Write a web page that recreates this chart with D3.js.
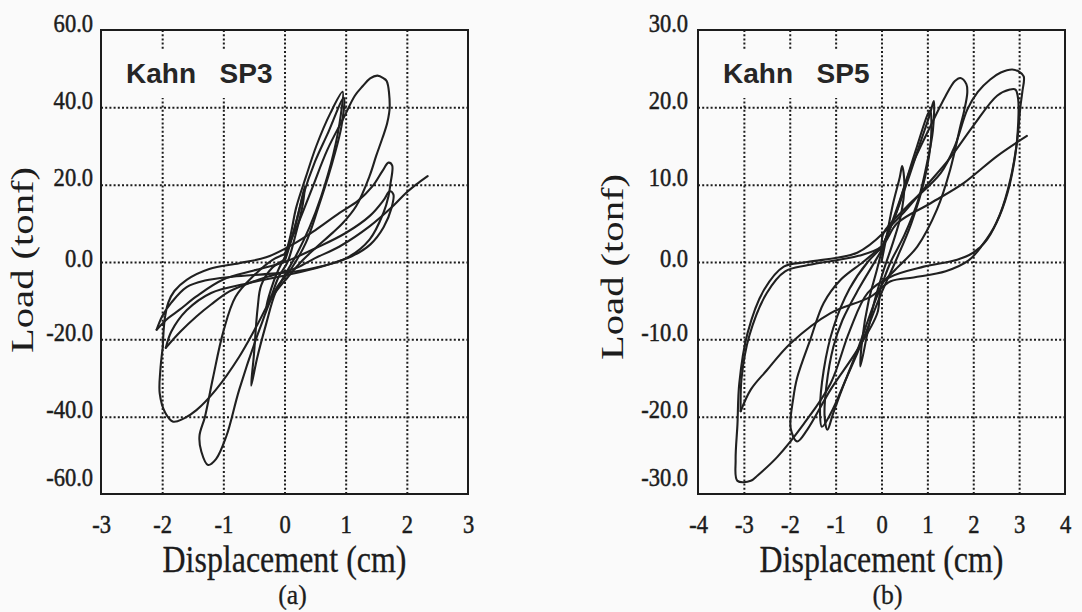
<!DOCTYPE html>
<html><head><meta charset="utf-8">
<script src="https://cdn.jsdelivr.net/npm/d3@7"></script>
<style>html,body{margin:0;padding:0;background:#fafafa;} svg{display:block;}</style>
</head><body>
<svg id="chart" width="1082" height="612"></svg>
<script>
// ---------------- DATA ----------------
const sp3XTicks = [-3, -2, -1, 0, 1, 2, 3];
const sp3YTicks = [-60, -40, -20, 0, 20, 40, 60];
const sp5XTicks = [-4, -3, -2, -1, 0, 1, 2, 3, 4];
const sp5YTicks = [-30, -20, -10, 0, 10, 20, 30];
const panelTitles = ["Kahn  SP3", "Kahn  SP5"];
const panelTags = ["(a)", "(b)"];
const xAxisTitle = "Displacement (cm)";
const yAxisTitle = "Load (tonf)";

// SP3 hysteresis cycles: [displacement (cm), load (tonf)]
const sp3Cycle1 = [[0,0],[0.1,5],[0.22,12],[0.33,19.5],[0.3,15],[0.18,7],[0.05,0],[-0.1,-4],[-0.22,-9],[-0.3,-12],[-0.22,-7],[-0.1,-2],[0,1]];
const sp3Cycle2 = [[0,1],[0.1,7],[0.19,14],[0.35,22],[0.52,30],[0.75,38.5],[0.95,44],[0.92,38],[0.8,28],[0.6,17],[0.41,9],[0.2,2],[0.02,-3],[-0.15,-8],[-0.3,-16],[-0.45,-25],[-0.545,-32],[-0.5,-24],[-0.44,-12],[-0.38,-6],[-0.2,-1.5],[0,0.5]];
const sp3Cycle3 = [[0,0.5],[0.15,8],[0.3,17],[0.5,26],[0.7,33],[0.97,42.5],[0.93,35],[0.75,24],[0.55,14],[0.35,5],[0.1,-2],[-0.14,-7],[-0.41,-17.5],[-0.74,-33],[-0.95,-45],[-1.12,-51],[-1.25,-52.5],[-1.36,-49],[-1.39,-45],[-1.3,-40],[-1.17,-30],[-1.0,-18],[-0.8,-9],[-0.5,-3.5],[-0.2,0.5],[0,2]];
const sp3Cycle4 = [[0,2],[0.2,9],[0.45,19],[0.7,29],[0.98,37.7],[1.15,43],[1.28,45.5],[1.4,47.5],[1.52,48.2],[1.62,47.5],[1.67,46.8],[1.72,40.3],[1.68,36],[1.6,32],[1.5,27.5],[1.39,22.2],[1.17,14.4],[0.95,10],[0.79,7.6],[0.5,3.5],[0.3,0.5],[0.05,-4],[-0.2,-9],[-0.46,-16.7],[-0.74,-24.5],[-1.12,-33],[-1.44,-38.3],[-1.65,-40.5],[-1.82,-41.3],[-1.95,-39],[-2.04,-34],[-2.03,-28],[-1.99,-22]];
const sp3Cycle5 = [[-1.99,-22],[-1.96,-15],[-1.9,-10.5],[-1.8,-7.5],[-1.6,-4.6],[-1.23,-1.8],[-0.74,-0.3],[-0.3,1.2],[0.13,4.5],[0.5,8.2],[0.9,12.7],[1.2,15.8],[1.44,19.6],[1.6,23.5],[1.7,25.7],[1.76,25],[1.73,20],[1.7,17],[1.62,12.8],[1.39,5.8],[1.01,1.0],[0.35,-2],[-0.2,-3],[-0.85,-3.8],[-1.3,-4.8],[-1.6,-6.5],[-1.85,-10.5],[-2.0,-14],[-2.09,-17.5]];
const sp3Cycle6 = [[-2.09,-17.5],[-1.9,-14.5],[-1.72,-12.4],[-1.44,-8.9],[-1.01,-4.6],[-0.5,-2.2],[0,0],[0.5,3.5],[1.0,7.5],[1.4,12],[1.62,16],[1.72,18.3],[1.78,17.5],[1.75,14],[1.62,9],[1.4,4.5],[1.1,1.5],[0.6,-1.2],[0,-3.5],[-0.6,-5.5],[-1.2,-8],[-1.6,-12.5],[-1.85,-18],[-1.94,-22.2]];
const sp3Cycle7 = [[-1.94,-22.2],[-1.7,-18],[-1.44,-14.1],[-1.2,-11],[-0.9,-7.6],[-0.5,-5],[-0.25,-3.7],[0.2,-1.5],[0.5,1],[0.9,4],[1.39,9.2],[1.77,14.4],[1.99,17.9],[2.15,20],[2.34,22.2]];

// SP5 hysteresis cycles: [displacement (cm), load (tonf)]
const sp5Cycle1 = [[0,0],[0.1,3],[0.25,7.5],[0.4,11],[0.45,12.4],[0.5,10],[0.42,6],[0.25,2.5],[0.05,-1],[-0.15,-5],[-0.3,-9],[-0.46,-13.5],[-0.42,-10],[-0.28,-5],[-0.1,-1],[0.05,2.5]];
const sp5Cycle2 = [[0.05,2.5],[0.3,6],[0.6,11],[0.85,15.5],[1.05,19],[1.14,20.8],[1.12,17],[1.0,13],[0.8,8],[0.5,3.5],[0.2,0],[0,-3],[-0.2,-6],[-0.5,-11],[-0.8,-15.5],[-1.05,-19.5],[-1.18,-21.7],[-1.24,-20],[-1.2,-16],[-1.05,-11],[-0.85,-7.5],[-0.5,-3.5],[-0.2,-0.5],[0,1.5]];
const sp5Cycle2b = [[0,1.5],[0.4,8],[0.75,14.5],[1.0,19],[1.06,19.6],[1.08,16],[0.95,11],[0.65,5],[0.3,0],[0,-4],[-0.4,-10],[-0.8,-15.5],[-1.1,-19.5],[-1.3,-21.3],[-1.34,-19.5],[-1.26,-14],[-1.05,-8.5],[-0.7,-3.5],[-0.3,0],[0,1.8]];
const sp5Cycle3 = [[0,1.8],[0.3,6],[0.63,12],[1.07,17.6],[1.4,21.5],[1.6,23.4],[1.72,23.8],[1.85,23],[1.87,21.9],[1.8,19.5],[1.72,17.6],[1.5,12],[1.21,6.8],[0.78,2.0],[0.3,-1],[0,-3],[-0.09,-6.6],[-0.53,-11.4],[-1.11,-16.5],[-1.62,-21.7],[-1.84,-23.2],[-1.98,-21.5],[-1.92,-17.5],[-1.84,-15],[-1.55,-10],[-1.26,-5.3],[-0.89,-2.3],[-0.4,0],[0,2]];
const sp5Cycle4 = [[0,2],[0.05,3.8],[0.56,7.2],[1.29,11.5],[1.6,15],[1.87,19.7],[2.1,22],[2.37,23.6],[2.6,24.5],[2.85,24.9],[3.0,24.6],[3.1,24],[3.07,22],[3.03,20.2],[2.96,15.8],[2.81,10.7],[2.59,6.3],[2.3,2.9],[2.0,1.2],[1.65,0.3],[0.92,-0.6],[0.2,-1.9],[-0.3,-4],[-0.7,-9],[-1.11,-15.7],[-1.69,-20.9],[-2.27,-25.2],[-2.7,-27.6],[-2.85,-28.3],[-3.14,-28.3],[-3.18,-25.6],[-3.14,-21],[-3.1,-15.7],[-2.92,-9.2],[-2.56,-3.6],[-2.13,-0.6],[-1.62,0],[-0.53,1.2],[0.05,3.8]];
const sp5Cycle5 = [[0.05,3.8],[0.5,6.5],[1.0,10],[1.5,13.5],[2.0,17.6],[2.52,21.5],[2.8,22.3],[2.92,22.3],[2.98,21],[2.98,18],[2.92,14],[2.75,9],[2.5,5],[2.2,2.2],[1.9,0.2],[1.4,-1.2],[0.7,-2],[0.2,-2.5],[-0.24,-4.5],[-1.11,-6.6],[-1.98,-10.5],[-2.5,-14],[-2.85,-16.5],[-3.07,-19.3]];
const sp5Cycle6 = [[-3.07,-19.3],[-3.05,-15],[-2.88,-9.5],[-2.5,-4],[-2.1,-1.2],[-1.6,-0.4],[-0.5,0.8],[0,2],[0.34,5],[1.07,7.6],[1.79,10.2],[2.52,13.7],[3.17,16.3]];

const sp3Cycles = [sp3Cycle1, sp3Cycle2, sp3Cycle3, sp3Cycle4, sp3Cycle5, sp3Cycle6, sp3Cycle7];
const sp5Cycles = [sp5Cycle1, sp5Cycle2, sp5Cycle2b, sp5Cycle3, sp5Cycle4, sp5Cycle5, sp5Cycle6];

// ---------------- DRAWING ----------------
const svg = d3.select("#chart");
svg.append("rect").attr("width", 1082).attr("height", 612).attr("fill", "#fafafa");

const INK = "#1c1c1c";
const SERIF = "'Liberation Serif','Times New Roman',serif";

function squeeze(sel, f, mode) {
  sel.each(function () {
    const L = this.getComputedTextLength();
    this.setAttribute("textLength", L * f);
    this.setAttribute("lengthAdjust", mode || "spacingAndGlyphs");
  });
}

function drawPanel(cfg) {
  const g = svg.append("g");
  const x = d3.scaleLinear().domain([cfg.xTicks[0], cfg.xTicks[cfg.xTicks.length - 1]]).range([cfg.left, cfg.right]);
  const y = d3.scaleLinear().domain([cfg.yTicks[0], cfg.yTicks[cfg.yTicks.length - 1]]).range([cfg.bottom, cfg.top]);
  const h = cfg.bottom - cfg.top, w = cfg.right - cfg.left;

  // dotted grid via axes
  const gx = g.append("g").attr("transform", `translate(0,${cfg.bottom})`)
    .call(d3.axisBottom(x).tickValues(cfg.xTicks.slice(1, -1)).tickSize(-h).tickFormat(""));
  const gy = g.append("g").attr("transform", `translate(${cfg.left},0)`)
    .call(d3.axisLeft(y).tickValues(cfg.yTicks.slice(1, -1)).tickSize(-w).tickFormat(""));
  [gx, gy].forEach(a => {
    a.select(".domain").remove();
    a.selectAll("line").attr("stroke", INK).attr("stroke-width", 2).attr("stroke-dasharray", "2,2.2");
  });

  // background box behind the title (hides grid), then title
  const box = g.append("rect").attr("x", cfg.left + 2).attr("y", 50).attr("height", 48).attr("fill", "#fafafa");
  const title = g.append("text")
    .attr("x", cfg.left + 25).attr("y", 83)
    .attr("font-family", "'Liberation Sans',Arial,sans-serif").attr("font-weight", "bold")
    .attr("font-size", 28).attr("fill", "#262626")
    .style("white-space", "pre").attr("word-spacing", 4)
    .text(cfg.title);
  const bb = title.node().getBBox();
  box.attr("width", bb.x + bb.width + 6 - cfg.left - 2);

  // curves
  const line = d3.line().x(d => x(d[0])).y(d => y(d[1])).curve(d3.curveCatmullRom.alpha(0.5));
  g.selectAll("path.cyc").data(cfg.cycles).join("path").attr("class", "cyc")
    .attr("d", line).attr("fill", "none").attr("stroke", "#202020")
    .attr("stroke-width", 2.1).attr("stroke-linejoin", "round").attr("stroke-linecap", "round");

  // frame
  g.append("rect").attr("x", cfg.left).attr("y", cfg.top).attr("width", w).attr("height", h)
    .attr("fill", "none").attr("stroke", INK).attr("stroke-width", 2);

  // tick labels via axes
  const ax = g.append("g").attr("transform", `translate(0,${cfg.bottom})`)
    .call(d3.axisBottom(x).tickValues(cfg.xTicks).tickSize(0).tickFormat(d => String(d)));
  ax.select(".domain").remove();
  ax.selectAll("text").attr("y", 39).attr("dy", null)
    .attr("font-family", SERIF).attr("font-size", 25).attr("fill", INK)
    .attr("stroke", INK).attr("stroke-width", 0.5);
  squeeze(ax.selectAll("text"), 0.9);

  const minY = cfg.yTicks[0];
  const ay = g.append("g").attr("transform", `translate(${cfg.left},0)`)
    .call(d3.axisLeft(y).tickValues(cfg.yTicks).tickSize(0).tickFormat(d => d.toFixed(1)));
  ay.select(".domain").remove();
  ay.selectAll("text").attr("x", -cfg.labelGap).attr("dy", null)
    .attr("y", d => d === minY ? -9 : d === 0 ? 4 : 1)
    .attr("font-family", SERIF).attr("font-size", 25).attr("fill", INK)
    .attr("stroke", INK).attr("stroke-width", 0.5);
  squeeze(ay.selectAll("text"), 0.9);

  // axis titles
  g.append("text").attr("x", (cfg.left + cfg.right) / 2).attr("y", 572)
    .attr("text-anchor", "middle").attr("font-family", SERIF).attr("font-size", 37).attr("fill", INK)
    .attr("stroke", INK).attr("stroke-width", 0.3)
    .attr("textLength", 244).attr("lengthAdjust", "spacingAndGlyphs")
    .text(xAxisTitle);

  const tag = g.append("text").attr("x", (cfg.left + cfg.right) / 2 + cfg.tagShift).attr("y", 604)
    .attr("text-anchor", "middle").attr("font-family", SERIF).attr("font-size", 27).attr("fill", INK)
    .attr("stroke", INK).attr("stroke-width", 0.3)
    .text(cfg.tag);
  squeeze(tag, 0.95);

  g.append("text").attr("transform", `translate(${cfg.yTitleX},${cfg.yTitleY}) scale(0.85,1) rotate(-90)`)
    .attr("text-anchor", "middle").attr("font-family", SERIF).attr("font-size", 36).attr("fill", INK)
    .attr("textLength", 186).attr("lengthAdjust", "spacingAndGlyphs")
    .text(yAxisTitle);
}

drawPanel({ left: 101, right: 468, top: 30, bottom: 494, xTicks: sp3XTicks, yTicks: sp3YTicks,
  cycles: sp3Cycles, title: panelTitles[0], tag: panelTags[0], tagShift: 8, labelGap: 8,
  yTitleX: 33, yTitleY: 260 });
drawPanel({ left: 698, right: 1065, top: 30, bottom: 494, xTicks: sp5XTicks, yTicks: sp5YTicks,
  cycles: sp5Cycles, title: panelTitles[1], tag: panelTags[1], tagShift: 6, labelGap: 10,
  yTitleX: 623, yTitleY: 267 });
</script>
</body></html>
